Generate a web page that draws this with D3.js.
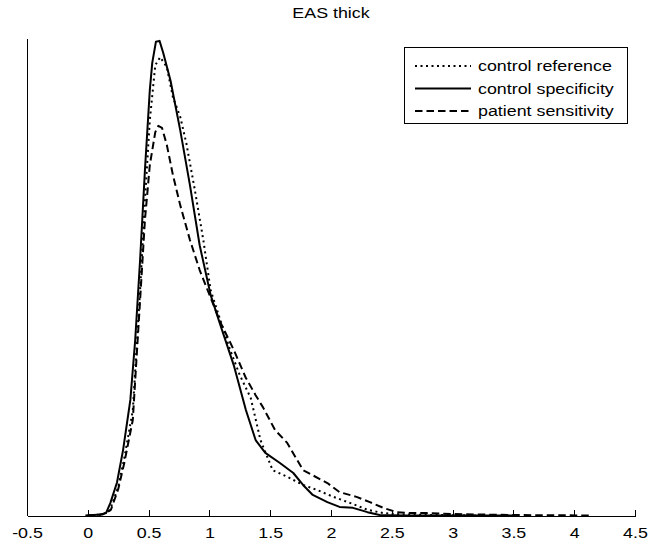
<!DOCTYPE html>
<html>
<head>
<meta charset="utf-8">
<script src="https://cdn.jsdelivr.net/npm/d3@7"></script>
<style>
    body { margin: 0; background: #fff; }
    svg { font-family: "Liberation Sans", Arial, sans-serif; }
    .axis path, .axis line { stroke: #000; shape-rendering: crispEdges; }
    .axis text { font-size: 15px; fill: #000; }
    .curve { fill: none; stroke: #000; stroke-width: 2; stroke-linejoin: round; }
</style>
</head>
<body>
<svg width="649" height="548"></svg>
<script>
'use strict';

// data (x, density scaled to axis height)
var seriesNames = ['control reference', 'control specificity', 'patient sensitivity'];
var xTicks = [-0.5, 0, 0.5, 1, 1.5, 2, 2.5, 3, 3.5, 4, 4.5];

var controlReference = [
    [0, 0], [0.12, 0.002], [0.18, 0.010], [0.25, 0.06], [0.30, 0.12], [0.37, 0.22],
    [0.43, 0.472], [0.47, 0.661], [0.51, 0.828], [0.555, 0.943], [0.595, 0.960],
    [0.65, 0.939], [0.70, 0.876], [0.76, 0.835], [0.81, 0.780], [0.88, 0.682],
    [0.95, 0.577], [1.01, 0.472], [1.09, 0.409], [1.17, 0.347], [1.25, 0.294],
    [1.34, 0.246], [1.42, 0.158], [1.52, 0.095], [1.64, 0.081], [1.77, 0.064],
    [1.89, 0.053], [2.02, 0.039], [2.16, 0.026], [2.30, 0.012], [2.43, 0.005],
    [2.6, 0.002], [3.2, 0]
];

var controlSpecificity = [
    [0, 0], [0.10, 0.002], [0.15, 0.005], [0.185, 0.026], [0.24, 0.069], [0.29, 0.137],
    [0.35, 0.242], [0.39, 0.368], [0.43, 0.535], [0.47, 0.724], [0.51, 0.891],
    [0.53, 0.948], [0.56, 0.992], [0.59, 0.994], [0.62, 0.969], [0.68, 0.911],
    [0.76, 0.807], [0.84, 0.692], [0.92, 0.566], [1.01, 0.462], [1.09, 0.399],
    [1.20, 0.315], [1.30, 0.221], [1.38, 0.158], [1.46, 0.131], [1.58, 0.110],
    [1.69, 0.089], [1.77, 0.064], [1.85, 0.043], [1.97, 0.028], [2.07, 0.018],
    [2.18, 0.016], [2.30, 0.007], [2.40, 0.001], [2.6, 0], [3.5, 0]
];

var patientSensitivity = [
    [-0.02, 0], [0.12, 0.002], [0.19, 0.012], [0.25, 0.055], [0.30, 0.11], [0.37, 0.20],
    [0.43, 0.451], [0.47, 0.619], [0.51, 0.734], [0.555, 0.803], [0.58, 0.816],
    [0.61, 0.812], [0.65, 0.776], [0.70, 0.713], [0.76, 0.650], [0.84, 0.577],
    [0.92, 0.514], [1.01, 0.456], [1.09, 0.405], [1.20, 0.347], [1.30, 0.288],
    [1.38, 0.252], [1.44, 0.227], [1.54, 0.179], [1.64, 0.152], [1.77, 0.095],
    [1.97, 0.068], [2.07, 0.049], [2.21, 0.039], [2.32, 0.028], [2.43, 0.016],
    [2.54, 0.007], [2.65, 0.005], [2.79, 0.005], [3.0, 0.003], [3.5, 0.001], [4.15, 0]
];

// 布局
var plotLeft = 27, plotRight = 635, plotTop = 38, plotBottom = 515.5;
// the original text is wider than Liberation Sans, stretch it a bit
var textStretch = 'scale(1.19,1)';

var svg = d3.select('svg');

var x = d3.scaleLinear().domain([-0.5, 4.5]).range([plotLeft, plotRight]);
var y = d3.scaleLinear().domain([0, 1]).range([plotBottom, plotTop]);

// title
svg.append('g')
    .attr('transform', 'translate(' + ((plotLeft + plotRight) / 2) + ',18)')
    .append('text')
        .text('EAS thick')
        .attr('text-anchor', 'middle')
        .attr('transform', textStretch)
        .style('font-size', '15px');

// x axis, ticks pointing inward
var xAxis = svg.append('g')
    .attr('class', 'axis')
    .attr('transform', 'translate(0,' + plotBottom + ')')
    .call(d3.axisBottom(x).tickValues(xTicks).tickSize(-6).tickSizeOuter(0)
        .tickFormat(function (d) { return String(d); }));
xAxis.selectAll('text')
    .attr('y', 11.5)
    .attr('dy', '0.71em')
    .attr('transform', textStretch);

// y axis, no ticks
svg.append('g')
    .attr('class', 'axis')
    .attr('transform', 'translate(' + plotLeft + ',0)')
    .call(d3.axisLeft(y).tickValues([]).tickSizeOuter(0));

// curves
var line = d3.line()
    .x(function (d) { return x(d[0]); })
    .y(function (d) { return y(d[1]); });

var series = [
    { name: seriesNames[0], values: controlReference, dash: '2,3.5' },
    { name: seriesNames[1], values: controlSpecificity, dash: null },
    { name: seriesNames[2], values: patientSensitivity, dash: '7.5,4' }
];

svg.append('g')
    .selectAll('path')
    .data(series)
    .enter()
        .append('path')
        .attr('class', 'curve')
        .attr('d', function (d) { return line(d.values); })
        .attr('stroke-dasharray', function (d) { return d.dash; });

// legend
var legend = svg.append('g').attr('transform', 'translate(404,47)');
legend.append('rect')
    .attr('width', 223)
    .attr('height', 76)
    .attr('fill', '#fff')
    .attr('stroke', '#000')
    .attr('stroke-width', 1)
    .attr('shape-rendering', 'crispEdges');

var rows = legend.selectAll('g.row')
    .data(series)
    .enter()
        .append('g')
        .attr('class', 'row')
        .attr('transform', function (d, i) { return 'translate(0,' + (19 + i * 22.5) + ')'; });

rows.append('line')
    .attr('class', 'curve')
    .attr('x1', 11)
    .attr('x2', 67)
    .attr('stroke-dasharray', function (d) { return d.dash; });

rows.append('text')
    .text(function (d) { return d.name; })
    .attr('dy', '0.35em')
    .attr('transform', 'translate(74,0) ' + textStretch)
    .style('font-size', '15px');
</script>
</body>
</html>
